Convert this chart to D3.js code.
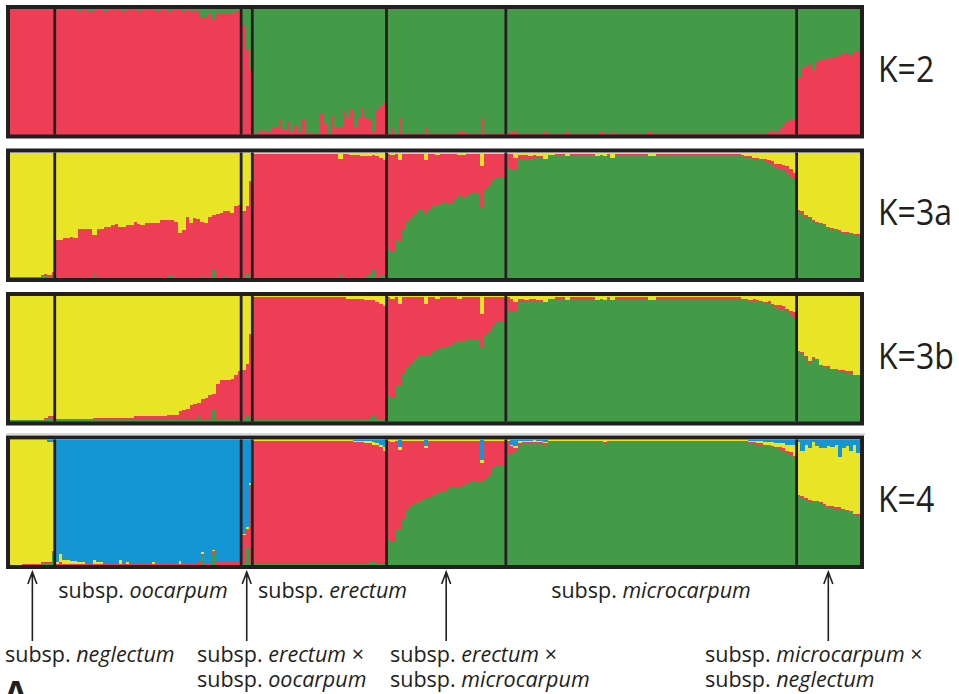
<!DOCTYPE html>
<html>
<head>
<meta charset="utf-8">
<script src="https://cdn.jsdelivr.net/npm/d3@7"></script>
<style>
body { margin: 0; background: #fff; }
svg { display: block; }
</style>
</head>
<body>
<div id="main"></div>
<script>
// individuals per sampled group, left to right
var groupNames = ["neglectum", "oocarpum", "erectum x oocarpum", "erectum",
                  "erectum x microcarpum", "microcarpum", "microcarpum x neglectum"];
var groupSizes = [12, 50, 3, 36, 32, 78, 17];
var panelLabels = ["K=2", "K=3a", "K=3b", "K=4"];
var clusterColors = {green: "#439B47", red: "#EE3E56", yellow: "#E8E426", blue: "#1496D4"};

// membership in %, one value per individual (group by group)
// K=2: red, green is the rest
var k2Red = [
  100,99,99,99,99,99,99,99,99,99,99,99,
  99,99,99,99,99,99,98,99,99,98, 99,99,99,98,99,99,99,99,98,99, 99,99,98,99,99,99,99,98,99,99, 98,99,99,99,98,99,98,99,98, 94,93,97,91,96,97,97,97,96,98,98,
  87,67,51,
  1,2,4,2,2,6,5,12,4,11, 2,7,2,12,1,3,1,1,16,8, 1,15,6,6,18,14,20,6,13,22, 13,12,3,20,23,26,
  1,5,1,14,1,1,1,1,1,1, 6,1,1,1,1,1,1,1,1,2, 2,1,1,1,1,14,1,1,1,1, 1,1,
  1,2,2,1,1,1,1,1,1,1, 2,1,1,1,1,1,2,1,1,1, 1,1,1,1,1,2,1,1,2,1, 1,1,1,1,1,1,1,1,2,1,
  1,1,1,1,1,1,1,1,1,1, 1,1,1,1,1,1,1,1,1,1, 1,1,1,1,1,1,1,1,1,1, 2,2,3,5,8,10,12,12,
  45,53,55,57,51,58,59,60,61,61,62,63,64,64,63,66,66
];

// K=3a: green, red, yellow is the rest
var k3aGreen = [
  1,1,1,1,1,1,1,1,2,2,1,2,
  1,1,1,1,1,1,1,1,1,1, 3,1,1,1,1,1,1,1,1,1, 1,1,1,1,1,1,1,1,1,1, 2,2,1,1,1,1,1,1,1,2, 1,1,6,1,1,2,1,1,1,1,
  1,3,1,
  1,1,1,1,1,1,1,1,1,1, 1,1,1,1,1,1,1,1,1,1, 1,1,1,4,1,1,1,1,1,1, 2,3,6,1,2,2,
  23,21,30,29,39,45,48,51,55,54, 52,55,58,57,60,61,60,60,63,66, 64,66,68,69,67,56,70,74,78,80, 80,80,
  88,87,86,94,95,95,95,96,96,96, 95,97,97,98,98,98,97,98,98,98, 98,98,98,98,97,97,97,98,96,98, 98,98,98,98,98,98,98,98,97,97,
  98,98,98,98,98,98,98,98,98,98, 98,98,98,98,98,98,98,98,98,98, 98,98,98,97,96,96,95,95,94,93, 92,90,88,87,86,84,80,78,
  53,52,49,48,45,44,43,42,40,39,38,37,36,36,35,34,34
];
var k3aRed = [
  0,0,0,0,0,0,0,0,0,1,1,3,
  29,29,31,31,32,31,38,38,38,38, 31,38,38,40,40,41,42,40,40,41, 41,44,42,41,43,43,43,43,45,45, 44,44,44,35,37,48,43,47,46,43, 43,48,44,50,51,51,52,51,56,57,
  52,54,76,
  98,98,98,98,98,98,98,98,98,98, 98,98,98,98,98,98,98,98,98,98, 98,98,98,91,98,98,97,97,97,96, 95,94,92,96,94,92,
  76,77,69,65,60,54,51,48,44,45, 42,44,41,41,39,38,39,39,36,32, 34,33,31,30,32,33,29,25,21,19, 19,19,
  11,12,10,4,3,3,2,2,1,1, 0,1,1,1,1,1,0,1,1,1, 1,1,1,1,0,1,0,1,0,1, 1,1,1,1,1,1,1,1,0,0,
  1,1,1,1,1,1,1,1,1,1, 1,1,1,1,1,1,1,1,1,1, 1,1,1,1,1,1,1,1,1,2, 2,3,3,4,4,5,7,6,
  1,1,1,1,1,1,1,1,1,1,1,1,1,1,1,1,1
];

// K=3b: green, red, yellow is the rest
var k3bGreen = [
  1,1,1,1,1,1,1,1,1,2,3,1,
  1,1,1,1,1,1,1,1,1,1, 2,1,1,1,1,1,1,1,1,1, 1,1,1,1,1,1,1,1,1,1, 2,2,1,1,1,1,1,1,4,1, 1,1,10,1,1,2,1,1,1,1,
  1,4,1,
  1,1,1,1,1,1,1,1,1,1, 1,1,1,1,1,1,1,1,1,1, 1,1,1,1,1,1,1,1,1,1, 2,3,4,1,2,2,
  20,19,28,29,38,43,47,49,52,52, 52,52,56,57,59,59,60,61,63,63, 64,65,66,66,65,59,68,71,76,79, 79,79,
  88,88,88,95,95,95,96,96,96,96, 95,97,97,98,98,98,97,98,98,98, 98,98,98,98,97,97,97,98,97,98, 98,98,98,98,98,98,98,98,97,97,
  98,98,98,98,98,98,98,98,98,98, 98,98,98,98,98,98,98,98,98,98, 98,98,98,97,97,96,96,96,95,94, 94,92,91,90,89,87,85,82,
  55,54,51,47,50,49,44,43,43,41,41,40,40,39,39,36,36
];
var k3bRed = [
  0,0,0,0,0,0,0,0,0,1,1,3,
  1,1,1,1,1,1,1,1,1,1, 1,2,2,2,2,2,2,2,2,2, 2,3,3,3,3,3,3,3,3,3, 3,3,4,7,8,9,12,13,11,17, 18,20,12,29,32,31,32,33,36,39,
  40,42,69,
  98,98,98,98,98,98,98,98,98,98, 98,98,98,98,98,98,98,98,98,98, 98,98,98,98,98,97,97,97,97,97, 95,94,93,94,92,90,
  79,79,71,65,61,56,52,50,47,47, 42,47,43,41,40,40,39,38,36,35, 35,34,33,33,34,27,31,28,23,20, 20,20,
  11,10,7,3,3,2,2,2,1,1, 0,1,1,1,1,1,0,1,1,1, 1,1,1,1,0,1,0,1,0,1, 1,1,1,1,1,1,1,1,0,0,
  1,1,1,1,1,1,1,1,1,1, 1,1,1,1,1,1,1,1,1,1, 1,1,1,1,1,1,2,1,1,1, 2,2,2,3,3,3,3,5,
  1,1,1,1,1,1,1,1,1,1,1,1,1,1,1,1,1
];

// K=4: green, red, yellow, blue is the rest
var k4Green = [
  0,0,0,0,0,0,0,0,1,1,1,9,
  0,0,0,0,0,0,0,0,0,0, 0,0,0,0,0,0,0,0,0,0, 0,0,0,0,0,0,0,0,0,0, 0,0,0,0,0,0,0,0,0,7, 0,0,9,0,0,0,0,0,0,0,
  1,14,1,
  1,1,1,1,1,1,1,1,1,1, 1,1,1,1,1,1,1,1,1,1, 1,1,1,1,1,1,1,1,1,1, 1,2,3,1,1,1,
  20,19,28,28,37,44,47,49,51,52, 53,53,56,57,58,58,61,61,62,62, 63,65,66,67,67,66,68,71,77,79, 79,79,
  88,89,90,95,97,97,97,97,97,97, 96,98,98,98,98,98,98,98,98,98, 98,98,98,98,98,98,97,98,98,98, 98,98,98,98,98,98,98,98,98,98,
  98,98,98,98,98,98,98,98,98,98, 98,98,98,98,98,98,98,98,98,98, 98,98,98,98,98,97,97,96,96,95, 95,94,93,92,91,89,88,85,
  55,54,52,51,50,50,49,48,46,46,45,45,44,43,42,40,40
];
var k4Red = [
  0,0,0,1,1,1,1,1,1,1,1,2,
  1,2,1,1,1,1,1,1,1,1, 1,1,1,1,1,1,1,1,1,1, 1,1,1,1,1,1,1,1,1,1, 1,1,1,1,1,1,1,1,2,2, 1,1,2,2,3,3,3,3,3,2,
  23,15,63,
  98,98,98,98,98,98,98,98,98,98, 98,98,98,98,98,98,98,98,98,98, 98,98,98,98,98,98,98,97,97,97, 96,95,93,95,93,90,
  79,79,71,64,62,55,52,50,48,47, 40,46,43,42,41,41,38,38,37,37, 36,34,33,32,32,15,31,28,22,20, 20,20,
  11,6,3,2,1,1,1,1,1,1, 1,1,1,1,1,1,1,1,1,1, 1,1,1,1,1,1,1,1,1,1, 1,1,1,1,1,1,1,1,1,1,
  1,1,1,1,1,1,1,1,1,1, 1,1,1,1,1,1,1,1,1,1, 1,1,1,1,1,1,1,1,1,1, 1,1,1,2,2,2,2,2,
  1,1,1,1,1,1,1,1,1,1,1,1,1,1,1,1,1
];
var k4Yellow = [
  100,100,100,99,99,99,99,99,98,98,96,87,
  1,7,3,3,2,2,1,1,0,0, 3,1,1,0,0,0,0,3,0,1, 0,0,0,0,0,0,1,0,0,0, 0,0,0,2,0,0,0,0,0,1, 0,0,1,0,0,0,0,0,0,0,
  1,1,1,
  1,1,1,1,1,1,1,1,1,1, 1,1,1,1,1,1,1,1,1,1, 1,1,1,1,1,1,1,1,1,1, 2,2,2,1,2,3,
  1,2,1,2,1,1,1,1,1,1, 2,1,1,1,1,1,1,1,1,1, 1,1,1,1,1,3,1,1,1,1, 1,1,
  1,1,2,2,1,1,1,2,1,1, 1,1,1,1,1,1,1,1,1,1, 1,1,1,1,1,1,2,1,1,1, 1,1,1,1,1,1,1,1,1,1,
  1,1,1,1,1,1,1,1,1,1, 1,1,1,1,1,1,1,1,1,1, 1,1,1,1,1,1,1,2,2,2, 2,3,3,3,4,5,6,9,
  42,36,43,41,47,44,43,44,48,47,50,40,48,51,48,55,48
];

var ctx = {
  w: 959,
  h: 694,
  x0: 10,
  x1: 860,
  tops: [9, 152.5, 296, 439.5],
  ph: 125.5,
  ink: "#231F20",
  font: "'Open Sans', sans-serif"
};

var panels = [
  {layers: [["red", k2Red]], rest: "green"},
  {layers: [["green", k3aGreen], ["red", k3aRed]], rest: "yellow"},
  {layers: [["green", k3bGreen], ["red", k3bRed]], rest: "yellow"},
  {layers: [["green", k4Green], ["red", k4Red], ["yellow", k4Yellow]], rest: "blue"}
];

var nInd = d3.sum(groupSizes);
var groupStarts = groupSizes.map(function(n, i){ return d3.sum(groupSizes.slice(0, i)); });

var drawPanel = function(svg, p, k) {
    var top = ctx.tops[k];
    var y = d3.scaleLinear().domain([0, 100]).range([top + ctx.ph, top]);
    var keys = p.layers.map(function(l){ return l[0]; }).concat([p.rest]);
    var rows = d3.range(nInd).map(function(i){
        var r = {i: i}, sum = 0;
        p.layers.forEach(function(l){ r[l[0]] = l[1][i]; sum += l[1][i]; });
        r[p.rest] = Math.max(0, 100 - sum);
        return r;
    });
    var series = d3.stack().keys(keys)(rows);
    var g = svg.append("g").attr("class", "panel");
    g.selectAll("g.layer")
        .data(series)
        .join("g")
        .attr("class", "layer")
        .attr("fill", function(d){ return clusterColors[d.key]; })
        .selectAll("rect")
        .data(function(d){ return d; })
        .join("rect")
        .attr("x", function(d){ return ctx.x(d.data.i); })
        .attr("width", ctx.x.bandwidth() + 0.8)
        .attr("y", function(d){ return y(Math.min(100, d[1])); })
        .attr("height", function(d){ return Math.max(0, y(d[0]) - y(Math.min(100, d[1]))); })
        .style("shape-rendering", "crispEdges");
    // group dividers
    g.selectAll("line.div")
        .data(groupStarts.slice(1))
        .join("line")
        .attr("x1", function(d){ return ctx.x(d); })
        .attr("x2", function(d){ return ctx.x(d); })
        .attr("y1", top)
        .attr("y2", top + ctx.ph)
        .style("stroke", ctx.ink)
        .style("stroke-width", 2.8);
    // frame
    g.append("rect")
        .attr("x", ctx.x0 - 2)
        .attr("y", top - 2)
        .attr("width", ctx.x1 - ctx.x0 + 4)
        .attr("height", ctx.ph + 4)
        .style("fill", "none")
        .style("stroke", ctx.ink)
        .style("stroke-width", 4);
    // K label, stretched a little upward like the original lettering
    g.append("text")
        .attr("transform", "translate(878," + (top + ctx.ph / 2 + 10) + ") scale(1,1.16)")
        .style("font-family", ctx.font)
        .style("font-size", "32px")
        .style("fill", ctx.ink)
        .text(panelLabels[k]);
};

var addLabel = function(svg, x, y, lines, anchor) {
    var t = svg.append("text")
        .attr("x", x)
        .attr("y", y)
        .style("font-family", ctx.font)
        .style("font-size", "21.5px")
        .style("text-anchor", anchor || "start")
        .style("fill", ctx.ink);
    lines.forEach(function(line, li){
        t.append("tspan").attr("x", x).attr("dy", li == 0 ? 0 : 25).text("subsp. ");
        t.append("tspan").style("font-style", "italic").text(line[0]);
        if (line[1]) { t.append("tspan").text(line[1]); }
    });
};

var createViz = function() {
    var svg = d3.select("#main").append("svg")
        .attr("width", ctx.w)
        .attr("height", ctx.h);
    ctx.x = d3.scaleBand().domain(d3.range(nInd)).range([ctx.x0, ctx.x1]).padding(0);

    // faint separator line between K=3b and K=4
    svg.append("line")
        .attr("x1", 6).attr("x2", 865)
        .attr("y1", 434).attr("y2", 434)
        .style("stroke", "#cfcfcf")
        .style("stroke-width", 1.5);

    panels.forEach(function(p, k){ drawPanel(svg, p, k); });

    // arrows under the hybrid / small groups
    var arrowGroups = [0, 2, 4, 6];
    var cx = function(gi){ return (ctx.x(groupStarts[gi]) + ctx.x(groupStarts[gi] + groupSizes[gi] - 1) + ctx.x.bandwidth()) / 2; };
    svg.selectAll("path.arrow")
        .data(arrowGroups)
        .join("path")
        .attr("class", "arrow")
        .attr("d", function(gi){
            var x = cx(gi);
            return "M" + x + ",641 L" + x + ",573 M" + (x - 4.5) + ",584 L" + x + ",572 L" + (x + 4.5) + ",584";
        })
        .style("fill", "none")
        .style("stroke", ctx.ink)
        .style("stroke-width", 1.6);

    addLabel(svg, 143, 598, [["oocarpum"]], "middle");
    addLabel(svg, 258, 598, [["erectum"]]);
    addLabel(svg, 651, 598, [["microcarpum"]], "middle");
    addLabel(svg, 5, 662, [["neglectum"]]);
    addLabel(svg, 197, 662, [["erectum", " \u00d7"], ["oocarpum"]]);
    addLabel(svg, 390, 662, [["erectum", " \u00d7"], ["microcarpum"]]);
    addLabel(svg, 705, 662, [["microcarpum", " \u00d7"], ["neglectum"]]);

    // panel letter, cut by the bottom edge as in the original
    svg.append("text")
        .attr("x", 4)
        .attr("y", 705)
        .style("font-family", ctx.font)
        .style("font-size", "34px")
        .style("font-weight", "bold")
        .style("fill", ctx.ink)
        .text("A");
};

createViz();
</script>
</body>
</html>
